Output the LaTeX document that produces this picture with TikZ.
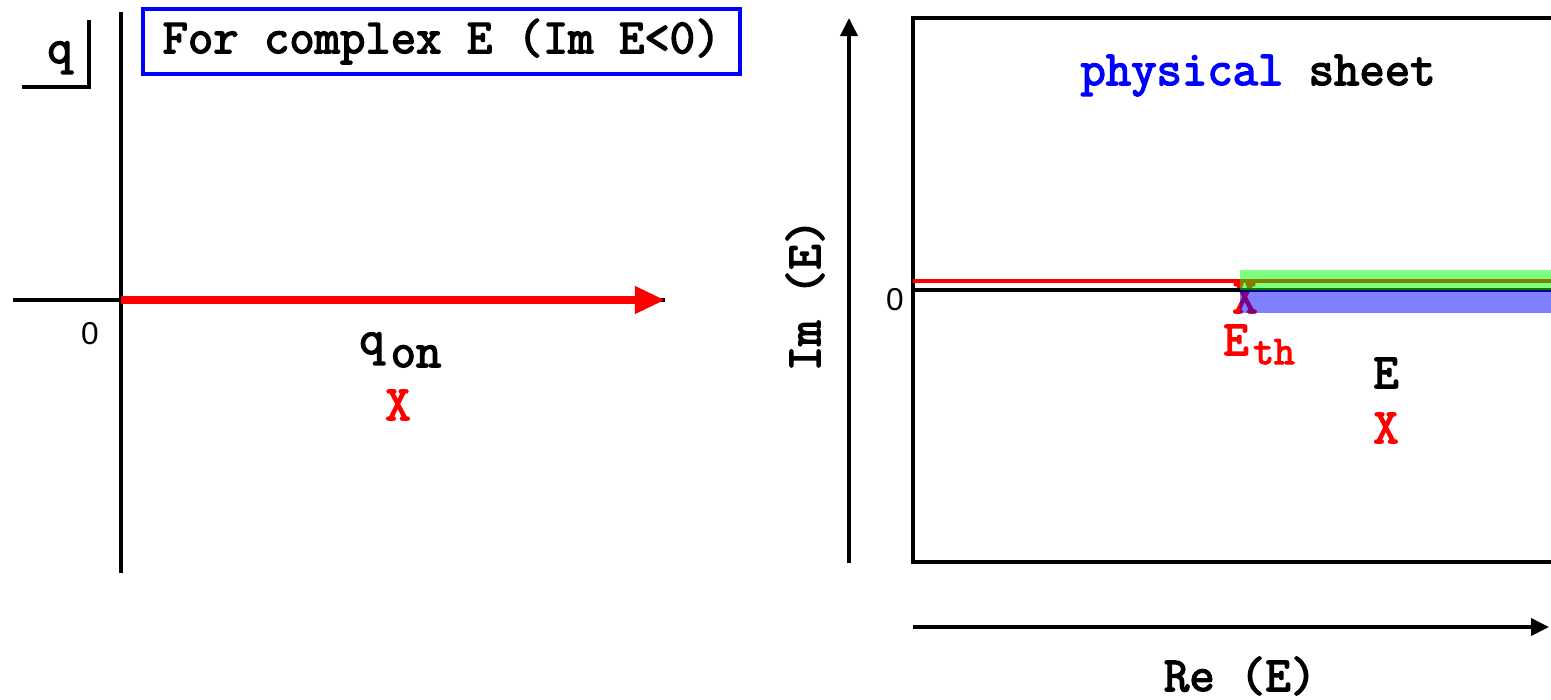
\documentclass[tikz,border=0pt]{standalone}
\usepackage{fontspec}
\newfontfamily\cour{Latin Modern Mono}[AutoFakeBold=3]
\newfontfamily\helv{Liberation Sans}
\usetikzlibrary{arrows.meta}
\tikzset{
  lbl/.style={inner sep=0pt, font=\fontsize{14}{16}\selectfont\cour\bfseries},
  sublbl/.style={inner sep=0pt, font=\fontsize{11.5}{13}\selectfont\cour\bfseries},
  zero/.style={inner sep=0pt, font=\fontsize{9}{11}\selectfont\helv},
  axis/.style={line width=1.05pt, black},
  cross/.style={lbl, text=red, anchor=base},
}
\begin{document}
\begin{tikzpicture}[x=0.01cm,y=-0.01cm]
\useasboundingbox (0,0) rectangle (1551,699);
% ---------- left panel ----------
\coordinate (lt) at (121,12);
\coordinate (lb) at (121,573);
\coordinate (hl) at (13,300);
\coordinate (hr) at (665,300);
\coordinate (o) at (121,300);
\draw[axis] (lt) -- (lb);
\draw[axis] (hl) -- (hr);
\draw[red, line width=2pt, -{Triangle[length=0.3cm,width=0.26cm]}] (o) -- (hr);
\node[zero] (z1) at (90,334) {0};
\node[lbl, anchor=base] (q) at (60,63) {q};
\coordinate (c1) at (22,87);
\coordinate (c2) at (89,87);
\coordinate (c3) at (89,20);
\draw[axis] (c1) -- (c2) -- (c3);
\node[draw=blue, line width=1.05pt, minimum width=5.97cm, minimum height=0.65cm, inner sep=0pt,
  font=\fontsize{14}{16}\selectfont\cour\bfseries] (title) at (441.5,41.5) {For complex E (Im E<0)};
\node[lbl, anchor=base] (qq) at (372,354) {q};
\node[lbl, anchor=base] (qon) at (416,367) {on};
\node[cross] (x1) at (398,420) {X};
% ---------- right panel ----------
\coordinate (it) at (849,18);
\coordinate (ib) at (849,563);
\draw[axis, -{Triangle[length=0.18cm,width=0.17cm]}] (ib) -- (it);
\node[lbl, rotate=90] (im) at (805,295) {Im (E)};
\node[zero] (z2) at (895,300) {0};
\coordinate (b1) at (1551,18);
\coordinate (b2) at (913,18);
\coordinate (b3) at (913,562);
\coordinate (b4) at (1551,562);
\draw[axis] (b1) -- (b2) -- (b3) -- (b4);
\coordinate (rl) at (913,281);
\coordinate (rr) at (1551,281);
\coordinate (kl) at (913,290);
\coordinate (kr) at (1551,290);
\node[cross] (x2) at (1245,313) {X};
\draw[red, line width=1.05pt] (rl) -- (rr);
\draw[axis] (kl) -- (kr);
\fill[green, fill opacity=0.5] (1240,270) rectangle (1551,290);
\fill[blue, fill opacity=0.5] (1240,290) rectangle (1551,313);
\node[lbl, text=red, anchor=base] (eth) at (1236,355) {E};
\node[sublbl, text=red, anchor=base] (th) at (1274,364) {th};
\node[lbl, anchor=base] (e) at (1386,388) {E};
\node[cross] (x3) at (1386,443) {X};
\node[lbl, anchor=base] (phys) at (1258,85) {\textcolor{blue}{physical} sheet};
\coordinate (rel) at (913,627);
\coordinate (rer) at (1549,627);
\draw[axis, -{Triangle[length=0.18cm,width=0.17cm]}] (rel) -- (rer);
\node[lbl, anchor=base] (re) at (1240,691) {Re (E)};
\end{tikzpicture}
\end{document}
